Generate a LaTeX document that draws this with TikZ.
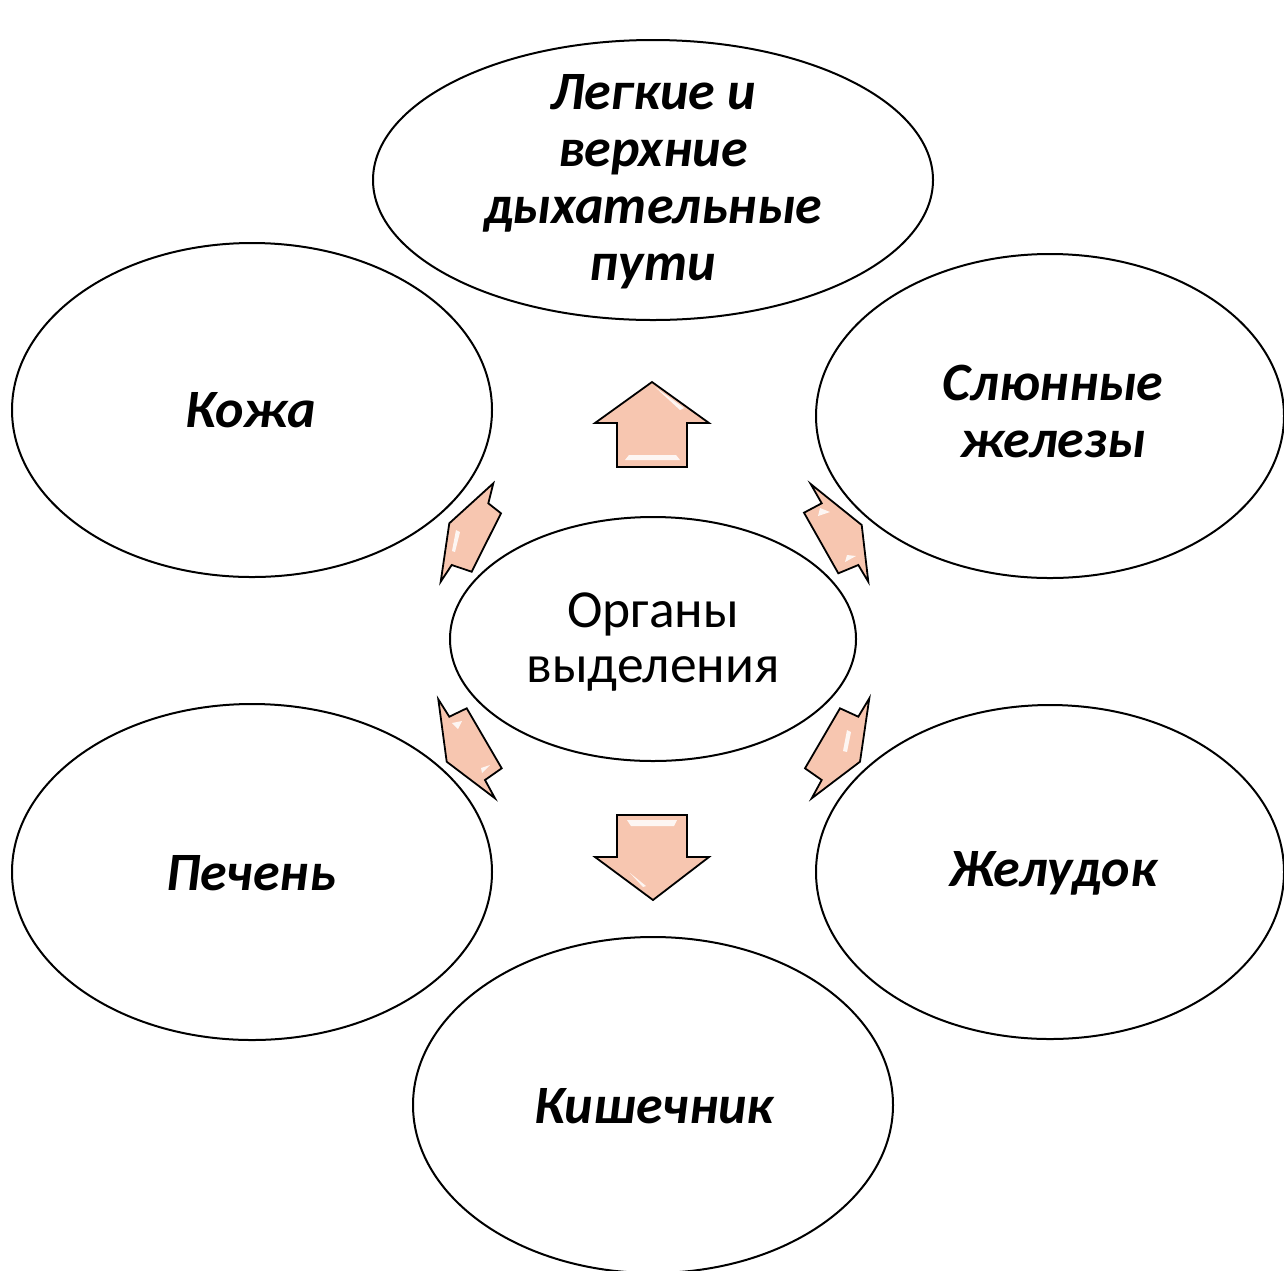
\documentclass[tikz,border=0pt]{standalone}
\usepackage{fontspec}
\setmainfont{Carlito}
\usetikzlibrary{shapes.geometric}
\definecolor{peach}{RGB}{247,198,176}
\tikzset{
  oval/.style={draw=black, line width=2pt, fill=white},
  lbl/.style={font=\fontsize{54}{57}\selectfont\bfseries\itshape, align=center, inner sep=0pt},
  clbl/.style={font=\fontsize{53.5}{55}\selectfont, align=center, inner sep=0pt},
  blockarrow/.style={draw=black, line width=1.8pt, line join=miter, fill=peach},
  shine/.style={fill=white, opacity=0.85, draw=none}
}
\begin{document}
\begin{tikzpicture}[x=1pt,y=-1pt]
\useasboundingbox (0,0) rectangle (1284,1270);
\fill[white] (0,0) rectangle (1284,1270);

% ellipses
\draw[oval] (653,180) ellipse [x radius=280, y radius=140];
\draw[oval] (252,410) ellipse [x radius=240, y radius=167];
\draw[oval] (1050,416) ellipse [x radius=234, y radius=162];
\draw[oval] (653,639) ellipse [x radius=203, y radius=122];
\draw[oval] (252,872) ellipse [x radius=240, y radius=168];
\draw[oval] (1050,872) ellipse [x radius=234, y radius=167];
\draw[oval] (653,1105) ellipse [x radius=240, y radius=168];

% labels
\node[lbl] (top) at (653,182) {Легкие и\\верхние\\дыхательные\\пути};
\node[lbl] (kozha) at (251,410) {Кожа};
\node[lbl] (slyun) at (1053,411) {Слюнные\\железы};
\node[clbl] (center) at (653,642) {Органы\\выделения};
\node[lbl] (pechen) at (251,873) {Печень};
\node[lbl] (zhel) at (1053,873) {Желудок};
\node[lbl] (kish) at (654,1106) {Кишечник};

% up arrow
\draw[blockarrow] (652,382) -- (709,423) -- (687,423) -- (687,467) -- (617,467) -- (617,423) -- (595,423) -- cycle;
\fill[shine] (655,387) -- (684,408) -- (680,410) -- cycle;
\fill[shine] (625,460) -- (680,460) -- (676,455) -- (629,455) -- cycle;
% down arrow
\draw[blockarrow] (617,815) -- (687,815) -- (687,857) -- (709,857) -- (653,900) -- (595,857) -- (617,857) -- cycle;
\fill[shine] (627,820) -- (677,820) -- (674,826) -- (631,826) -- cycle;
\fill[shine] (630,873) -- (646,886) -- (643,887) -- cycle;

% upper-left arrow
\draw[blockarrow] (493.3,483.3) -- (488.3,503.3) -- (501,513.3) -- (471.7,571.7) -- (451.7,565) -- (440.7,581.7) -- (449.3,523.3) -- cycle;
\fill[shine] (456,530) -- (460,532) -- (455,552) -- (452,551) -- cycle;
% upper-right arrow
\draw[blockarrow] (810.7,484) -- (861.7,525) -- (868.3,581.7) -- (858.3,565) -- (838.3,573.3) -- (804,512.7) -- (821.7,503.3) -- cycle;
\fill[shine] (820,508) -- (830,512) -- (818,516) -- cycle;
\fill[shine] (847,555) -- (856,556) -- (845,562) -- cycle;
% lower-left arrow
\draw[blockarrow] (438.3,699.3) -- (449.3,716.7) -- (466.7,708.3) -- (501.7,768.3) -- (485,780) -- (495,798.3) -- (446.7,761.7) -- cycle;
\fill[shine] (452,723) -- (462,721) -- (458,729) -- cycle;
\fill[shine] (481,768) -- (490,765) -- (482,773) -- cycle;
% lower-right arrow
\draw[blockarrow] (869.3,698.3) -- (860,761.7) -- (811.7,798.3) -- (821.7,780) -- (805,768.3) -- (840,708.3) -- (858.3,716.7) -- cycle;
\fill[shine] (847,730) -- (851,732) -- (847,752) -- (843,751) -- cycle;
\end{tikzpicture}
\end{document}
